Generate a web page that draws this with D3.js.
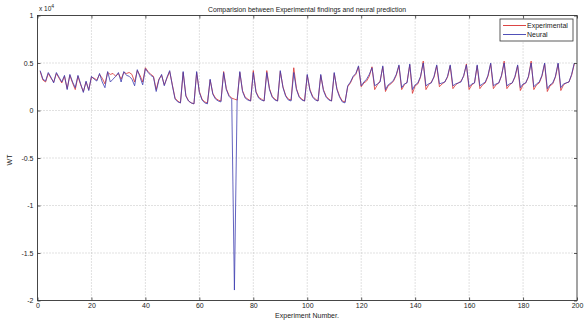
<!DOCTYPE html>
<html><head><meta charset="utf-8">
<script src="https://cdn.jsdelivr.net/npm/d3@7/dist/d3.min.js"></script>
<style>
html,body{margin:0;padding:0;background:#fff;}
text{font-family:"Liberation Sans",Arial,sans-serif;fill:#222;}
</style></head>
<body><svg id="c" width="588" height="322"></svg>
<script>
// Experiment numbers 1..199, values in units of 10^4
const neural = [
0.42,0.33,0.31,0.40,0.35,0.29,0.40,0.35,0.30,0.37,
0.22,0.38,0.30,0.24,0.37,0.28,0.19,0.31,0.21,0.36,
0.33,0.31,0.39,0.30,0.24,0.41,0.30,0.33,0.36,0.40,
0.30,0.41,0.37,0.36,0.33,0.26,0.43,0.35,0.27,0.44,
0.40,0.37,0.35,0.20,0.32,0.38,0.26,0.35,0.42,0.26,
0.12,0.09,0.08,0.41,0.15,0.10,0.08,0.07,0.41,0.19,
0.11,0.08,0.07,0.33,0.17,0.12,0.10,0.09,0.40,0.22,
0.15,0.12,-1.89,0.10,0.41,0.20,0.13,0.11,0.10,0.40,
0.19,0.13,0.11,0.10,0.40,0.22,0.14,0.11,0.10,0.42,
0.24,0.15,0.11,0.10,0.40,0.22,0.14,0.11,0.10,0.38,
0.21,0.14,0.11,0.10,0.38,0.21,0.14,0.11,0.10,0.40,
0.22,0.14,0.09,0.08,0.26,0.30,0.36,0.39,0.47,0.26,
0.30,0.33,0.38,0.45,0.26,0.28,0.30,0.47,0.22,0.27,
0.29,0.32,0.38,0.48,0.24,0.28,0.29,0.49,0.22,0.27,
0.29,0.36,0.50,0.26,0.28,0.29,0.36,0.48,0.28,0.29,
0.30,0.36,0.48,0.26,0.28,0.29,0.30,0.37,0.48,0.25,
0.28,0.29,0.48,0.26,0.28,0.30,0.37,0.50,0.26,0.28,
0.29,0.37,0.50,0.26,0.28,0.29,0.36,0.48,0.24,0.28,
0.29,0.36,0.50,0.25,0.28,0.30,0.37,0.50,0.23,0.27,
0.29,0.36,0.50,0.24,0.28,0.29,0.30,0.38,0.50
];
const experimental = [
0.41,0.32,0.30,0.39,0.34,0.30,0.39,0.34,0.29,0.36,
0.23,0.37,0.29,0.22,0.36,0.27,0.20,0.30,0.22,0.35,
0.34,0.32,0.38,0.34,0.28,0.40,0.38,0.39,0.36,0.39,
0.33,0.40,0.39,0.40,0.38,0.30,0.42,0.37,0.30,0.45,
0.41,0.38,0.36,0.22,0.33,0.37,0.27,0.34,0.41,0.27,
0.13,0.10,0.08,0.40,0.16,0.10,0.08,0.07,0.40,0.20,
0.12,0.09,0.08,0.32,0.18,0.13,0.11,0.10,0.41,0.23,
0.16,0.13,0.12,0.11,0.40,0.21,0.14,0.12,0.10,0.42,
0.20,0.14,0.12,0.10,0.42,0.23,0.15,0.12,0.10,0.41,
0.25,0.16,0.12,0.11,0.45,0.23,0.15,0.12,0.10,0.37,
0.22,0.15,0.12,0.10,0.37,0.22,0.15,0.12,0.10,0.39,
0.23,0.15,0.10,0.09,0.25,0.29,0.35,0.38,0.46,0.25,
0.29,0.31,0.36,0.46,0.22,0.27,0.31,0.46,0.20,0.26,
0.28,0.31,0.37,0.47,0.22,0.27,0.30,0.48,0.18,0.26,
0.28,0.35,0.52,0.22,0.27,0.30,0.35,0.47,0.25,0.28,
0.30,0.35,0.47,0.23,0.27,0.29,0.31,0.36,0.49,0.22,
0.27,0.29,0.47,0.23,0.27,0.29,0.36,0.49,0.23,0.27,
0.29,0.36,0.52,0.23,0.27,0.29,0.35,0.47,0.21,0.27,
0.29,0.35,0.52,0.22,0.27,0.29,0.36,0.49,0.20,0.26,
0.28,0.35,0.49,0.21,0.27,0.29,0.30,0.37,0.49
];
const xTicks = [0,20,40,60,80,100,120,140,160,180,200];
const yTicks = [-2,-1.5,-1,-0.5,0,0.5,1];
const yTickLabels = ["-2","-1.5","-1","-0.5","0","0.5","1"];
const seriesNames = ["Experimental","Neural"];
const seriesColors = ["#d83030","#3c3cb0"];
const title = "Comparision between Experimental findings and neural prediction";
const xLabel = "Experiment Number.";
const yLabel = "WT";

const L=37.5, R=577, T=15.5, B=300.5;
const svg = d3.select("#c");
const x = d3.scaleLinear().domain([0,200]).range([L,R]);
const y = d3.scaleLinear().domain([-2,1]).range([B,T]);

// grid
const g = svg.append("g");
g.selectAll("line.vg").data(xTicks.slice(1,-1)).enter().append("line")
  .attr("x1",d=>x(d)).attr("x2",d=>x(d)).attr("y1",T).attr("y2",B)
  .attr("stroke","#b4b4b4").attr("stroke-width",0.8).attr("stroke-dasharray","1,2");
g.selectAll("line.hg").data(yTicks.slice(1,-1)).enter().append("line")
  .attr("y1",d=>y(d)).attr("y2",d=>y(d)).attr("x1",L).attr("x2",R)
  .attr("stroke","#b4b4b4").attr("stroke-width",0.8).attr("stroke-dasharray","1,2");

// lines
const line = d3.line().x((d,i)=>x(i+1)).y(d=>y(d));
svg.append("path").datum(experimental).attr("d",line).attr("fill","none")
  .attr("stroke",seriesColors[0]).attr("stroke-width",0.8);
svg.append("path").datum(neural).attr("d",line).attr("fill","none")
  .attr("stroke",seriesColors[1]).attr("stroke-width",0.8);

// axes (inner ticks)
const ax = svg.append("g").attr("font-size",7);
ax.append("g").attr("transform",`translate(0,${B})`)
  .call(d3.axisBottom(x).tickValues(xTicks).tickSizeInner(-3).tickSizeOuter(0).tickPadding(3))
  .call(s=>{s.select(".domain").remove(); s.selectAll("text").attr("font-size",7).attr("fill","#222").style("fill","#222");});
ax.append("g").attr("transform",`translate(0,${T})`)
  .call(d3.axisTop(x).tickValues(xTicks).tickSizeInner(-3).tickSizeOuter(0).tickFormat(""))
  .call(s=>s.select(".domain").remove());
ax.append("g").attr("transform",`translate(${L},0)`)
  .call(d3.axisLeft(y).tickValues(yTicks).tickFormat((d,i)=>yTickLabels[i]).tickSizeInner(-3).tickSizeOuter(0).tickPadding(4))
  .call(s=>{s.select(".domain").remove(); s.selectAll("text").attr("font-size",7).attr("fill","#222").style("fill","#222");});
ax.append("g").attr("transform",`translate(${R},0)`)
  .call(d3.axisRight(y).tickValues(yTicks).tickSizeInner(-3).tickSizeOuter(0).tickFormat(""))
  .call(s=>s.select(".domain").remove());
svg.selectAll(".tick line").attr("stroke","#333").attr("stroke-width",0.8);
svg.append("rect").attr("x",L).attr("y",T).attr("width",R-L).attr("height",B-T)
  .attr("fill","none").attr("stroke","#333").attr("stroke-width",0.9);

// multiplier
const mt = svg.append("text").attr("x",39).attr("y",11).attr("font-size",6.5).style("fill","#222");
mt.append("tspan").text("x 10");
mt.append("tspan").attr("dy",-3).attr("font-size",5).text("4");

// title & labels
svg.append("text").attr("x",307).attr("y",12).attr("text-anchor","middle").attr("font-size",6.8).style("fill","#222").text(title);
svg.append("text").attr("x",307).attr("y",318).attr("text-anchor","middle").attr("font-size",7).style("fill","#222").text(xLabel);
svg.append("text").attr("transform","translate(12,160) rotate(-90)").attr("text-anchor","middle").attr("font-size",7).style("fill","#222").text(yLabel);

// legend
const lg = svg.append("g");
lg.append("rect").attr("x",500).attr("y",19).attr("width",73).attr("height",22)
  .attr("fill","#fff").attr("stroke","#333").attr("stroke-width",0.8);
seriesNames.forEach((n,i)=>{
  const yy = 25.5 + i*9;
  lg.append("line").attr("x1",503).attr("x2",526).attr("y1",yy).attr("y2",yy)
    .attr("stroke",seriesColors[i]).attr("stroke-width",0.9);
  lg.append("text").attr("x",527).attr("y",yy+2.5).attr("font-size",7).style("fill","#222").text(n);
});
</script></body></html>
